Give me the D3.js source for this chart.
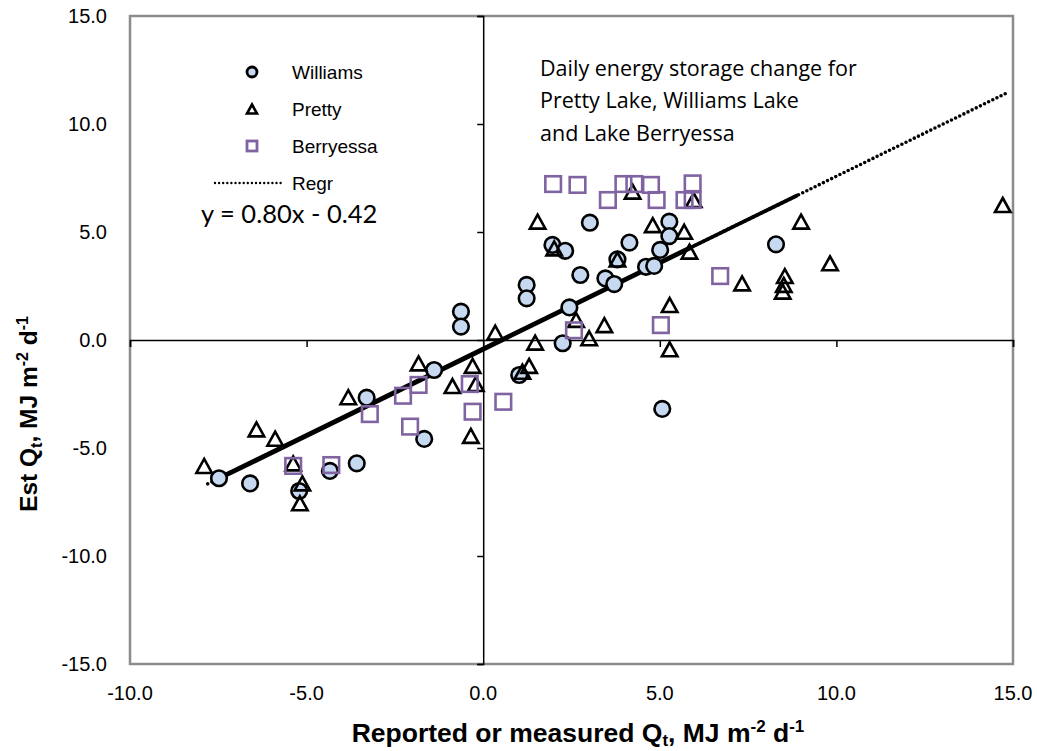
<!DOCTYPE html>
<html>
<head>
<meta charset="utf-8">
<script src="https://cdn.jsdelivr.net/npm/d3@7"></script>
<style>
  body { margin: 0; background: #fff; }
  svg text { font-family: "Liberation Sans", Arial, sans-serif; }
</style>
</head>
<body>
<div id="chart"></div>
<script>
// values
const williams = [
  [-7.48, -6.40], [-6.60, -6.64], [-5.21, -6.99], [-4.34, -6.06], [-3.58, -5.71],
  [-3.30, -2.67], [-1.67, -4.58], [-1.39, -1.39], [-0.63, 1.31], [-0.63, 0.62],
  [1.02, -1.62], [1.23, 2.55], [1.23, 1.93], [2.25, -0.15], [2.44, 1.51],
  [1.96, 4.40], [2.32, 4.13], [3.02, 5.43], [2.75, 3.01], [3.46, 2.85],
  [3.71, 2.59], [3.80, 3.73], [4.14, 4.51], [4.61, 3.39], [4.84, 3.43],
  [5.01, 4.17], [5.27, 5.48], [5.27, 4.81], [8.29, 4.43], [5.07, -3.19]
];
const pretty = [
  [-7.90, -5.83], [-6.42, -4.14], [-5.89, -4.57], [-5.38, -5.71], [-5.12, -6.64],
  [-5.19, -7.56], [-3.82, -2.65], [-1.83, -1.08], [-0.87, -2.13], [-0.35, -4.44],
  [-0.30, -1.20], [-0.21, -2.04], [0.34, 0.34], [1.47, -0.12], [1.30, -1.20],
  [1.11, -1.47], [2.63, 0.93], [3.00, 0.08], [3.43, 0.69], [5.28, 1.62],
  [5.28, -0.43], [7.33, 2.62], [8.54, 2.96], [8.51, 2.55], [8.48, 2.24],
  [9.82, 3.55], [9.00, 5.48], [14.71, 6.25], [5.69, 5.01], [5.84, 4.09],
  [5.96, 6.48], [1.54, 5.48], [2.01, 4.24], [3.80, 3.73], [4.23, 6.87], [4.80, 5.32]
];
const berryessa = [
  [1.98, 7.22], [2.67, 7.18], [3.97, 7.22], [4.28, 7.22], [4.75, 7.18], [5.93, 7.25],
  [3.53, 6.48], [4.91, 6.48], [5.70, 6.48], [5.93, 6.48], [6.71, 2.96],
  [2.57, 0.45], [5.03, 0.69], [-0.38, -2.04], [0.57, -2.86], [-0.30, -3.32],
  [-1.83, -2.08], [-2.27, -2.58], [-3.21, -3.43], [-2.07, -4.01],
  [-5.38, -5.83], [-4.30, -5.79]
];
const regrSlope = 0.80, regrIntercept = -0.42;
const regrDotted = [-7.8, 14.8];   // sparse dotted part
const regrThick = [-7.4, 5.9];     // dense overlap, looks solid
const regrMedium = [5.9, 8.9];
const xTicks = [-10, -5, 0, 5, 10, 15];
const yTicks = [-15, -10, -5, 0, 5, 10, 15];
const legendNames = ["Williams", "Pretty", "Berryessa", "Regr"];
const noteLines = ["Daily energy storage change for", "Pretty Lake, Williams Lake", "and Lake Berryessa"];

const W = 1037, H = 751;
const m = { left: 130, right: 1013, top: 16, bottom: 664 };

const svg = d3.select("#chart").append("svg").attr("width", W).attr("height", H);

const x = d3.scaleLinear().domain([-10, 15]).range([m.left, m.right]);
const y = d3.scaleLinear().domain([-15, 15]).range([m.bottom, m.top]);

const blue = "#c6d9f1", purple = "#8064a2";
const fmt = d => d.toFixed(1); // plain hyphen like the original

// plot frame
svg.append("rect")
  .attr("x", m.left).attr("y", m.top)
  .attr("width", m.right - m.left).attr("height", m.bottom - m.top)
  .attr("fill", "none").attr("stroke", "#8c8c8c").attr("stroke-width", 2.5);

// axes crossing at zero
svg.append("g")
  .attr("transform", `translate(0,${y(0)})`)
  .call(d3.axisBottom(x).tickValues(xTicks).tickSize(7).tickFormat(""))
  .call(g => g.select(".domain").attr("stroke-width", 1.5))
  .call(g => g.selectAll(".tick line").attr("stroke-width", 1.5));

svg.append("g")
  .attr("transform", `translate(${x(0)},0)`)
  .call(d3.axisLeft(y).tickValues(yTicks).tickSize(6).tickFormat(""))
  .call(g => g.select(".domain").attr("stroke-width", 1.5))
  .call(g => g.selectAll(".tick line").attr("stroke-width", 1.5));

// tick labels at the frame edges
svg.append("g").selectAll("text").data(xTicks).join("text")
  .attr("x", d => x(d)).attr("y", 700)
  .attr("text-anchor", "middle").attr("font-size", 20)
  .text(fmt);

svg.append("g").selectAll("text").data(yTicks).join("text")
  .attr("x", 107).attr("y", d => y(d)).attr("dy", "0.35em")
  .attr("text-anchor", "end").attr("font-size", 20)
  .text(fmt);

// axis titles
const xt = svg.append("text")
  .attr("x", 578).attr("y", 742)
  .attr("text-anchor", "middle").attr("font-size", 26.5).attr("font-weight", "bold");
xt.append("tspan").text("Reported or measured Q");
xt.append("tspan").attr("font-size", 17).attr("dy", 4).text("t");
xt.append("tspan").attr("dy", -4).text(", MJ m");
xt.append("tspan").attr("font-size", 17).attr("dy", -10).text("-2");
xt.append("tspan").attr("dy", 10).text(" d");
xt.append("tspan").attr("font-size", 17).attr("dy", -10).text("-1");

const yt = svg.append("text")
  .attr("transform", "translate(37,414) rotate(-90)")
  .attr("text-anchor", "middle").attr("font-size", 24.5).attr("font-weight", "bold");
yt.append("tspan").text("Est Q");
yt.append("tspan").attr("font-size", 16).attr("dy", 5).text("t");
yt.append("tspan").attr("dy", -5).text(", MJ m");
yt.append("tspan").attr("font-size", 16).attr("dy", -9).text("-2");
yt.append("tspan").attr("dy", 9).text(" d");
yt.append("tspan").attr("font-size", 16).attr("dy", -9).text("-1");

// regression line
const regr = d3.line().x(d => x(d)).y(d => y(regrSlope * d + regrIntercept));
svg.append("path").attr("d", regr(regrDotted))
  .attr("stroke", "#000").attr("stroke-width", 3.6).attr("fill", "none")
  .attr("stroke-linecap", "round").attr("stroke-dasharray", "0 4.6");
svg.append("path").attr("d", regr(regrMedium))
  .attr("stroke", "#000").attr("stroke-width", 3.8).attr("fill", "none");
svg.append("path").attr("d", regr(regrThick))
  .attr("stroke", "#000").attr("stroke-width", 4.8).attr("fill", "none");

// marker shapes
const tri = (w, h) => `M0,${-h / 2}L${w / 2},${h / 2}L${-w / 2},${h / 2}Z`;

svg.append("g").selectAll("circle").data(williams).join("circle")
  .attr("cx", d => x(d[0])).attr("cy", d => y(d[1])).attr("r", 7.8)
  .attr("fill", blue).attr("stroke", "#000").attr("stroke-width", 2.6);

svg.append("g").selectAll("path").data(pretty).join("path")
  .attr("transform", d => `translate(${x(d[0])},${y(d[1])})`)
  .attr("d", tri(15.5, 14))
  .attr("fill", "none").attr("stroke", "#000").attr("stroke-width", 2.6)
  .attr("stroke-linejoin", "miter");

svg.append("g").selectAll("rect").data(berryessa).join("rect")
  .attr("x", d => x(d[0]) - 7.8).attr("y", d => y(d[1]) - 7.8)
  .attr("width", 15.6).attr("height", 15.6)
  .attr("fill", "none").attr("stroke", purple).attr("stroke-width", 2.6);

// legend
const lg = svg.append("g");
const lgY = [72, 109, 146, 183];
lg.append("circle").attr("cx", 252).attr("cy", lgY[0]).attr("r", 5)
  .attr("fill", blue).attr("stroke", "#000").attr("stroke-width", 2.8);
lg.append("path").attr("transform", `translate(252,${lgY[1]})`).attr("d", tri(10, 9))
  .attr("fill", "none").attr("stroke", "#000").attr("stroke-width", 2.6);
lg.append("rect").attr("x", 247).attr("y", lgY[2] - 5).attr("width", 10).attr("height", 10)
  .attr("fill", "none").attr("stroke", purple).attr("stroke-width", 2.8);
lg.append("line").attr("x1", 215).attr("x2", 281).attr("y1", lgY[3]).attr("y2", lgY[3])
  .attr("stroke", "#000").attr("stroke-width", 2.4)
  .attr("stroke-linecap", "round").attr("stroke-dasharray", "0 4.1");
lg.selectAll("text").data(legendNames).join("text")
  .attr("x", 292).attr("y", (d, i) => lgY[i]).attr("dy", "0.35em")
  .attr("font-size", 19).text(d => d);

// equation and note
svg.append("text").attr("x", 201).attr("y", 223)
  .style("font-family", "Lato, 'Open Sans', sans-serif").attr("font-size", 25.5)
  .text(`y = ${regrSlope.toFixed(2)}x - ${Math.abs(regrIntercept).toFixed(2)}`);

svg.append("g").selectAll("text").data(noteLines).join("text")
  .attr("x", 540).attr("y", (d, i) => 68 + i * 32.5).attr("dy", "0.35em")
  .style("font-family", "'Open Sans', Lato, sans-serif").attr("font-size", 21.5)
  .text(d => d);
</script>
</body>
</html>
